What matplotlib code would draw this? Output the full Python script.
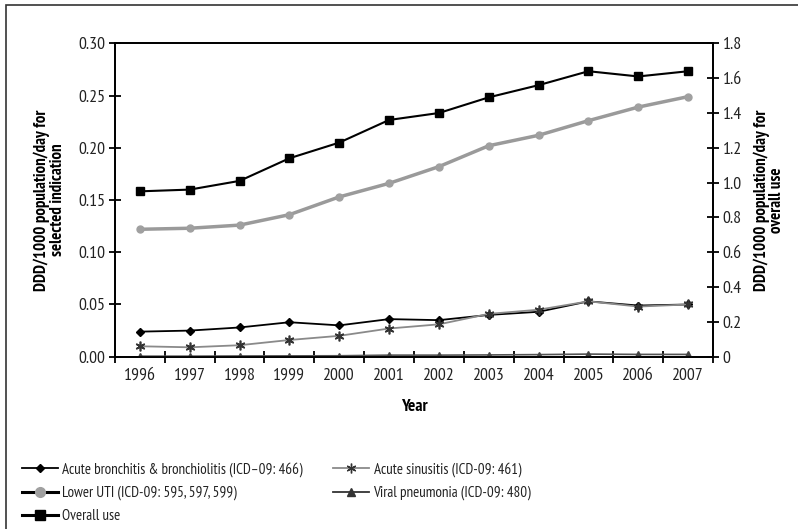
import matplotlib
matplotlib.use("Agg")
from matplotlib import pyplot as plt
from matplotlib.lines import Line2D
from matplotlib.patches import Rectangle

plt.rcParams['font.family'] = ['PT Sans Narrow', 'DejaVu Sans']

years = ["1996", "1997", "1998", "1999", "2000", "2001",
         "2002", "2003", "2004", "2005", "2006", "2007"]
bronchitis = [0.024, 0.025, 0.028, 0.033, 0.030, 0.036,
              0.035, 0.040, 0.043, 0.053, 0.049, 0.050]
sinusitis = [0.010, 0.009, 0.011, 0.016, 0.020, 0.027,
             0.031, 0.041, 0.045, 0.053, 0.048, 0.050]
lower_uti = [0.122, 0.123, 0.126, 0.136, 0.153, 0.166,
             0.182, 0.202, 0.212, 0.226, 0.239, 0.249]
viral_pneumonia = [0.0005, 0.0005, 0.0007, 0.0008, 0.0009, 0.0015,
                   0.0015, 0.0017, 0.0020, 0.0025, 0.0022, 0.0022]
overall_use = [0.95, 0.96, 1.01, 1.14, 1.23, 1.36,
               1.40, 1.49, 1.56, 1.64, 1.61, 1.64]

x = list(range(len(years)))
asterisk = (6, 2, 0)

fig = plt.figure(figsize=(7.98, 5.29), dpi=100)
ax = fig.add_axes([0.1441, 0.3257, 0.7494, 0.5923])
ax2 = ax.twinx()

ax.plot(x, viral_pneumonia, '-', color='#555555', lw=1.2, marker='^', ms=5,
        mfc='#444444', mec='#444444', zorder=3)
ax.plot(x, lower_uti, '-', color='#9a9a9a', lw=2.5, marker='o', ms=5,
        mfc='#a0a0a0', mec='#a0a0a0', zorder=4)
ax.plot(x, bronchitis, '-', color='black', lw=1.3, marker='D', ms=4,
        mfc='black', mec='black', zorder=5)
ax.plot(x, sinusitis, '-', color='#8a8a8a', lw=1.3, marker=asterisk, ms=7,
        mfc='#333333', mec='#333333', mew=1.2, zorder=6)
ax2.plot(x, overall_use, '-', color='black', lw=1.5, marker='s', ms=6,
         mfc='black', mec='black')

ax.set_xlim(-0.5, len(years) - 0.5)
ax.set_ylim(0, 0.30)
ax2.set_ylim(0, 1.8)
ax.set_yticks([0.00, 0.05, 0.10, 0.15, 0.20, 0.25, 0.30])
ax.set_yticklabels(["0.00", "0.05", "0.10", "0.15", "0.20", "0.25", "0.30"])
ax2.set_yticks([0, 0.2, 0.4, 0.6, 0.8, 1.0, 1.2, 1.4, 1.6, 1.8])
ax2.set_yticklabels(["0", "0.2", "0.4", "0.6", "0.8", "1.0", "1.2", "1.4", "1.6", "1.8"])

ax.set_xticks([i - 0.5 for i in range(len(years) + 1)])
ax.set_xticklabels([])
ax.set_xticks(x, minor=True)
ax.set_xticklabels(years, minor=True)
ax.tick_params(axis='x', which='major', direction='inout', length=8, width=1.3)
ax.tick_params(axis='x', which='minor', length=0, labelsize=12.8, pad=8, colors='#222222')
ax.tick_params(axis='y', direction='inout', length=8, width=1.3, labelsize=12.8, pad=3,
               labelcolor='#222222')
ax2.tick_params(axis='y', direction='inout', length=8, width=1.3, labelsize=12.8, pad=3,
                labelcolor='#222222')

for a in (ax, ax2):
    for s in a.spines.values():
        s.set_linewidth(1.3)
        s.set_color('black')

ax.set_ylabel("DDD/1000 population/day for\nselected indication",
              fontsize=12.2, fontweight='bold', labelpad=9, linespacing=0.95)
ax2.set_ylabel("DDD/1000 population/day for\noverall use",
               fontsize=12.2, fontweight='bold', labelpad=8, linespacing=0.95)
ax.set_xlabel("Year", fontsize=12.5, fontweight='bold', labelpad=11)

left_handles = [
    Line2D([], [], color='black', lw=1.3, marker='D', ms=4),
    Line2D([], [], color='black', lw=2.2, marker='o', ms=7, mfc='#a0a0a0', mec='#a0a0a0'),
    Line2D([], [], color='black', lw=2.2, marker='s', ms=7),
]
left_labels = ["Acute bronchitis & bronchiolitis (ICD\u201309: 466)",
               "Lower UTI (ICD-09: 595, 597, 599)",
               "Overall use"]
right_handles = [
    Line2D([], [], color='#8a8a8a', lw=1.3, marker=asterisk, ms=7, mec='#333333', mew=1.0),
    Line2D([], [], color='#333333', lw=1.3, marker='^', ms=6, mfc='#333333', mec='#333333'),
]
right_labels = ["Acute sinusitis (ICD-09: 461)",
                "Viral pneumonia (ICD-09: 480)"]

leg_kw = dict(loc='upper left', frameon=False, fontsize=10.8, handlelength=2.4,
              handletextpad=0.3, labelspacing=0.6, borderaxespad=0, borderpad=0)
fig.legend(left_handles, left_labels, bbox_to_anchor=(22 / 798, 1 - 462 / 529), **leg_kw)
fig.legend(right_handles, right_labels, bbox_to_anchor=(333 / 798, 1 - 462 / 529), **leg_kw)
for leg in fig.legends:
    for t in leg.get_texts():
        t.set_color('#222222')

fig.add_artist(Rectangle((0.008, -0.05), 1.05, 1.04, transform=fig.transFigure,
                         fill=False, edgecolor='#333333', lw=1.2))

fig.savefig("out.png", dpi=100)
